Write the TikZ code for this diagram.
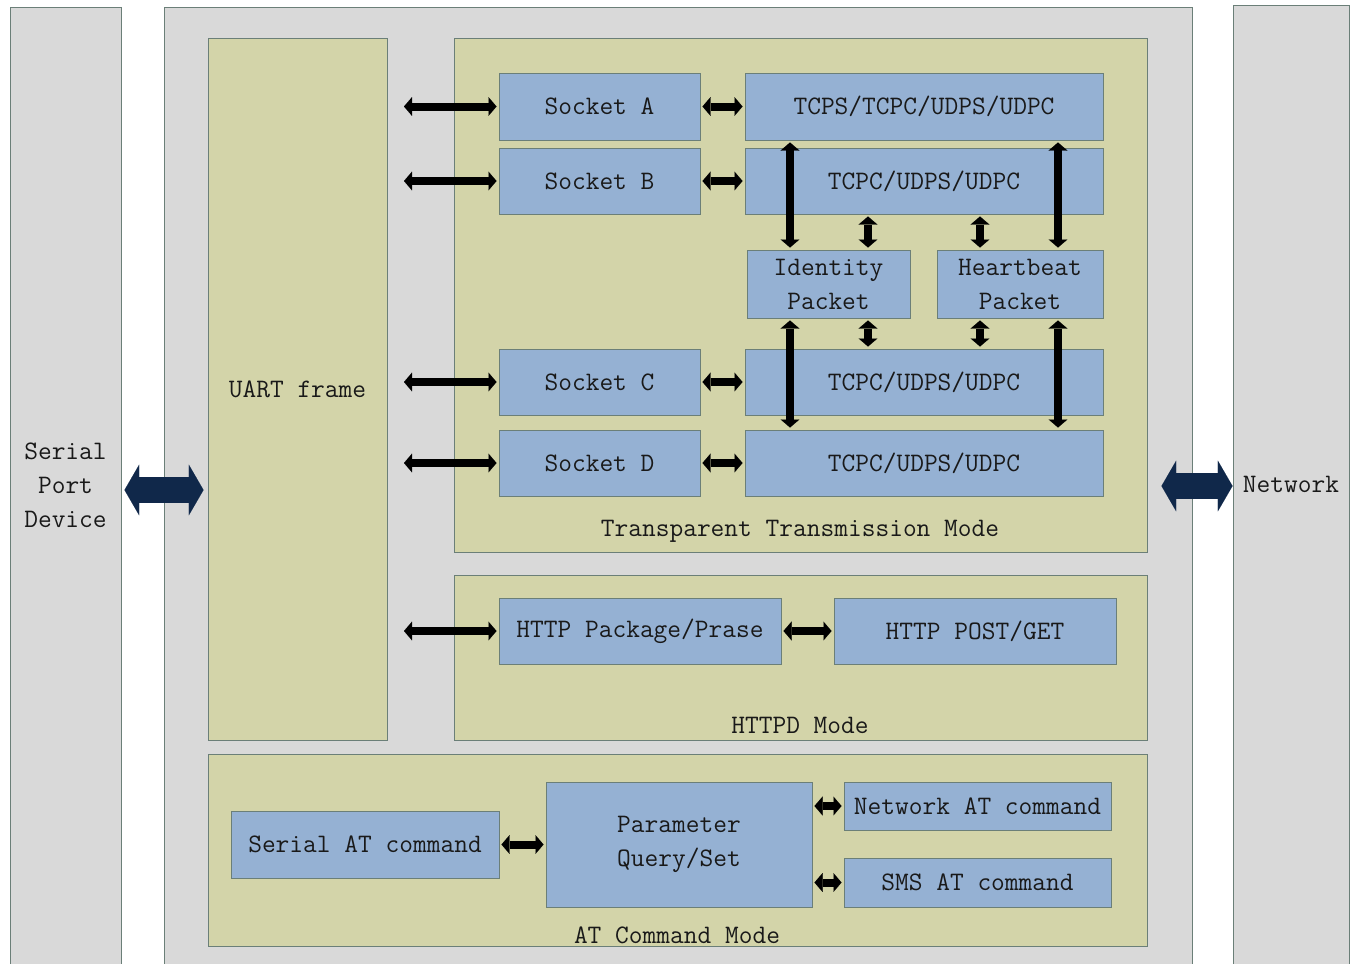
\documentclass[tikz,border=0pt]{standalone}
\usetikzlibrary{arrows.meta}
\definecolor{olv}{HTML}{D3D4A9}
\definecolor{blu}{HTML}{95B1D3}
\definecolor{gry}{HTML}{D9D9D9}
\definecolor{edg}{HTML}{6B7F78}
\definecolor{navy}{HTML}{10284A}
\begin{document}
\begin{tikzpicture}[x=0.75pt,y=-0.75pt,
 every node/.style={font=\fontsize{20}{25.5}\selectfont\ttfamily, inner sep=0pt, text=black!90},
 panel/.style={draw=edg, line width=0.75pt, fill=gry, align=center},
 mode/.style={draw=edg, line width=0.75pt, fill=olv},
 blk/.style={draw=edg, line width=0.75pt, fill=blu, align=center},
 sz/.style 2 args={minimum width=#1*0.75pt, minimum height=#2*0.75pt},
 arr/.style={line width=6pt, {Triangle[width=14pt,length=6pt,line width=0.01pt]}-{Triangle[width=14pt,length=6pt,line width=0.01pt]}, shorten <=1.5pt, shorten >=1.5pt},
 bigarr/.style={navy, line width=19.5pt, {Triangle[width=38pt,length=11pt,line width=0.01pt]}-{Triangle[width=38pt,length=11pt,line width=0.01pt]}}]
\useasboundingbox (0,0) rectangle (1354,964);
\fill[white] (0,0) rectangle (1354,964);
% columns
\node[panel, sz={111}{957}] (dev) at (65.5,485.5) {Serial\\Port\\Device};
\node[panel, sz={1028}{957}] (main) at (678,485.5) {};
\node[panel, sz={116}{959}] (net) at (1291,484.5) {Network};
% mode panels
\node[mode, sz={179}{702}] (uart) at (297.5,389) {UART frame};
\node[mode, sz={693}{514}] (ttm) at (800.5,295) {};
\node (ttml) at (800,531) {Transparent Transmission Mode};
\node[mode, sz={693}{165}] (httpd) at (800.5,657.5) {};
\node (httpdl) at (800,725) {HTTPD Mode};
\node[mode, sz={939}{192}] (atm) at (677.5,850) {};
\node (atml) at (677,935) {AT Command Mode};
% sockets
\node[blk, sz={201}{67}] (sa) at (599.5,106.5) {Socket A};
\node[blk, sz={201}{66}] (sb) at (599.5,181) {Socket B};
\node[blk, sz={201}{66}] (sc) at (599.5,382) {Socket C};
\node[blk, sz={201}{66}] (sd) at (599.5,463) {Socket D};
\node[blk, sz={358}{67}] (ta) at (924,106.5) {TCPS/TCPC/UDPS/UDPC};
\node[blk, sz={358}{66}] (tb) at (924,181) {TCPC/UDPS/UDPC};
\node[blk, sz={358}{66}] (tc) at (924,382) {TCPC/UDPS/UDPC};
\node[blk, sz={358}{66}] (td) at (924,463) {TCPC/UDPS/UDPC};
\node[blk, sz={163}{68}] (id) at (828.5,284) {Identity\\Packet};
\node[blk, sz={166}{68}] (hb) at (1020,284) {Heartbeat\\Packet};
% http
\node[blk, sz={282}{66}] (hp) at (640,631) {HTTP Package/Prase};
\node[blk, sz={282}{66}] (hg) at (975,631) {HTTP POST/GET};
% at
\node[blk, sz={268}{67}] (sat) at (365,844.5) {Serial AT command};
\node[blk, sz={266}{125}] (pq) at (679,844.5) {Parameter\\Query/Set};
\node[blk, sz={267}{48}] (nat) at (977.5,806) {Network AT command};
\node[blk, sz={267}{49}] (sms) at (977.5,882.5) {SMS AT command};
% helper coordinates
\coordinate (lx) at (402,0);
\coordinate (xa) at (790,0);
\coordinate (xb) at (868,0);
\coordinate (xc) at (980,0);
\coordinate (xd) at (1058,0);
\coordinate (sy) at (0,490);
\coordinate (ny) at (0,486);
% arrows
\foreach \s/\t in {sa/ta,sb/tb,sc/tc,sd/td}{
  \draw[arr] (lx |- \s.west) -- (\s.west);
  \draw[arr] (\s.east) -- (\t.west);
}
\draw[arr] (ta.south -| xa) -- (id.north -| xa);
\draw[arr] (id.south -| xa) -- (td.north -| xa);
\draw[arr] (ta.south -| xd) -- (hb.north -| xd);
\draw[arr] (hb.south -| xd) -- (td.north -| xd);
\draw[arr] (tb.south -| xb) -- (id.north -| xb);
\draw[arr] (id.south -| xb) -- (tc.north -| xb);
\draw[arr] (tb.south -| xc) -- (hb.north -| xc);
\draw[arr] (hb.south -| xc) -- (tc.north -| xc);
\draw[arr] (lx |- hp.west) -- (hp.west);
\draw[arr] (hp.east) -- (hg.west);
\draw[arr] (sat.east) -- (pq.west);
\draw[arr] (pq.east |- nat.west) -- (nat.west);
\draw[arr] (pq.east |- sms.west) -- (sms.west);
\draw[bigarr, shorten <=2.25pt, shorten >=3pt] (dev.east |- sy) -- (uart.west |- sy);
\draw[bigarr, shorten <=10.5pt] (ttm.east |- ny) -- (net.west |- ny);
\end{tikzpicture}
\end{document}
